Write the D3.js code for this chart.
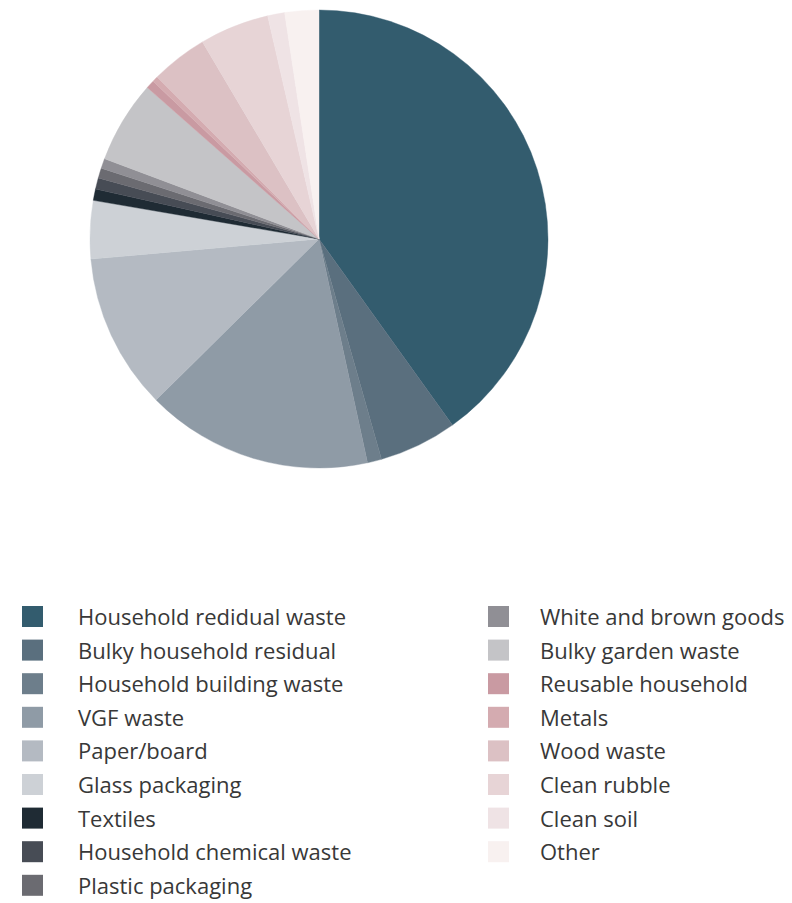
<!DOCTYPE html>
<html>
<head>
<meta charset="utf-8">
<script src="https://cdn.jsdelivr.net/npm/d3@7"></script>
<style>
  html, body { margin: 0; padding: 0; background: #ffffff; }
  svg { display: block; }
</style>
</head>
<body>
<svg id="chart" width="792" height="903"></svg>
<script>
// Waste streams, clockwise from 12 o'clock (share of total, %)
const categories = [
  "Household redidual waste",
  "Bulky household residual",
  "Household building waste",
  "VGF waste",
  "Paper/board",
  "Glass packaging",
  "Textiles",
  "Household chemical waste",
  "Plastic packaging",
  "White and brown goods",
  "Bulky garden waste",
  "Reusable household",
  "Metals",
  "Wood waste",
  "Clean rubble",
  "Clean soil",
  "Other"
];
const shares = [40.1, 5.5, 1.0, 16.0, 11.0, 4.1, 0.8, 0.8, 0.7, 0.7, 5.8, 0.6, 0.4, 4.0, 4.9, 1.2, 2.4];
const colors = [
  "#335c6e", "#5a6f7e", "#6d7e8b", "#8f9ba6", "#b4bac2", "#cdd1d6",
  "#1f2b34", "#474c55", "#6b6b71", "#908f95", "#c4c4c7",
  "#c99aa2", "#d4abb0", "#dcc1c4", "#e7d4d6", "#efe3e5", "#f8f1f0"
];
// Legend split into two columns
const legendColumns = [categories.slice(0, 9), categories.slice(9)];

const data = categories.map((c, i) => ({ name: c, value: shares[i], color: colors[i] }));

const svg = d3.select("#chart");

const cx = 319, cy = 239, radius = 229;

const pie = d3.pie().sort(null).value(d => d.value).startAngle(0).endAngle(2 * Math.PI);
const arc = d3.arc().innerRadius(0).outerRadius(radius);

svg.append("g")
  .attr("transform", `translate(${cx},${cy})`)
  .selectAll("path")
  .data(pie(data))
  .join("path")
  .attr("d", arc)
  .attr("fill", d => d.data.color)
  .attr("stroke", d => d.data.color)
  .attr("stroke-width", 0.4);

// Legend
const colorOf = d3.scaleOrdinal().domain(categories).range(colors);
const colX = [22, 488];
const textDx = [56, 52];
const rowY = d3.scaleLinear().domain([0, 1]).range([606, 639.6]);
const sw = 21;

legendColumns.forEach((names, ci) => {
  const g = svg.append("g").attr("class", "legend-col");
  const items = g.selectAll("g").data(names).join("g")
    .attr("transform", (d, i) => `translate(${colX[ci]},${rowY(i)})`);
  items.append("rect")
    .attr("width", sw).attr("height", sw)
    .attr("fill", d => colorOf(d));
  items.append("text")
    .attr("x", textDx[ci])
    .attr("y", 19)
    .attr("font-family", "'Open Sans', sans-serif")
    .attr("font-size", 22)
    .attr("fill", "#383838")
    .text(d => d);
});
</script>
</body>
</html>
